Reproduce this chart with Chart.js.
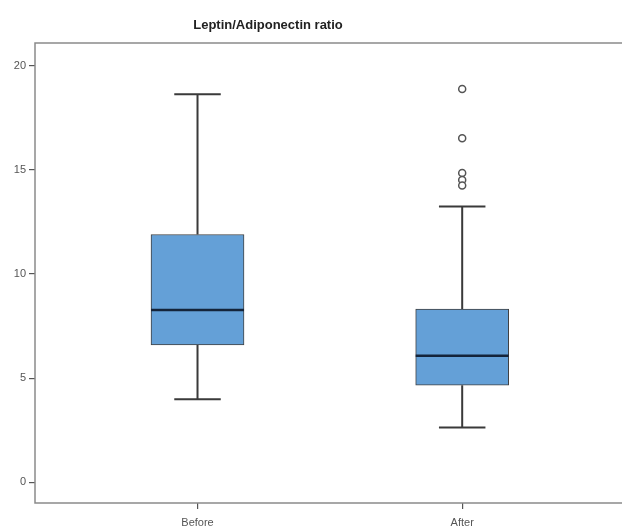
<!DOCTYPE html>
<html>
<head>
<meta charset="utf-8">
<script src="https://cdn.jsdelivr.net/npm/chart.js@4.4.1/dist/chart.umd.min.js"></script>
<style>
  html, body { margin: 0; padding: 0; background: #fff; }
  #wrap { width: 622px; height: 528px; position: relative; }
</style>
</head>
<body>
<div id="wrap"><canvas id="c" width="622" height="528"></canvas></div>
<script>
const chartTitle = 'Leptin/Adiponectin ratio';
const categories = ['Before', 'After'];
const categoryPos = [0, 1];
const whiskerLow = [3.99, 2.63];
const q1 = [6.59, 4.66];
const median = [8.27, 6.07];
const q3 = [11.9, 8.32];
const whiskerHigh = [18.64, 13.24];
const outliersAfter = [18.89, 16.52, 14.85, 14.52, 14.25];
const yTicks = [0, 5, 10, 15, 20];

const boxData = categoryPos.map((x, i) => ({ x: x, y: [q1[i], q3[i]] }));
const outlierData = outliersAfter.map(v => ({ x: categoryPos[1], y: v }));

const boxPlugin = {
  id: 'boxExtras',
  beforeDatasetsDraw(chart) {
    const ctx = chart.ctx, xs = chart.scales.x, ys = chart.scales.y;
    const meta = chart.getDatasetMeta(0);
    ctx.save();
    ctx.strokeStyle = '#3a3a3a';
    ctx.lineWidth = 2;
    categoryPos.forEach((p, i) => {
      const cx = xs.getPixelForValue(p);
      const half = meta.data[i].width / 4;
      const yHi = ys.getPixelForValue(whiskerHigh[i]);
      const yLo = ys.getPixelForValue(whiskerLow[i]);
      const yQ3 = ys.getPixelForValue(q3[i]);
      const yQ1 = ys.getPixelForValue(q1[i]);
      ctx.beginPath();
      ctx.moveTo(cx, yHi); ctx.lineTo(cx, yQ3);
      ctx.moveTo(cx, yQ1); ctx.lineTo(cx, yLo);
      ctx.moveTo(cx - half, yHi); ctx.lineTo(cx + half, yHi);
      ctx.moveTo(cx - half, yLo); ctx.lineTo(cx + half, yLo);
      ctx.stroke();
    });
    ctx.restore();
  },
  afterDatasetsDraw(chart) {
    const ctx = chart.ctx, xs = chart.scales.x, ys = chart.scales.y;
    const meta = chart.getDatasetMeta(0);
    ctx.save();
    ctx.strokeStyle = '#14243a';
    ctx.lineWidth = 2.5;
    categoryPos.forEach((p, i) => {
      const cx = xs.getPixelForValue(p);
      const half = meta.data[i].width / 2;
      const ym = ys.getPixelForValue(median[i]);
      ctx.beginPath();
      ctx.moveTo(cx - half, ym); ctx.lineTo(cx + half, ym);
      ctx.stroke();
    });
    ctx.restore();
  },
  afterDraw(chart) {
    const ctx = chart.ctx, a = chart.chartArea;
    ctx.save();
    ctx.strokeStyle = '#8a8a8a';
    ctx.lineWidth = 1.5;
    ctx.beginPath();
    ctx.moveTo(chart.width + 2, a.top);
    ctx.lineTo(a.left, a.top);
    ctx.lineTo(a.left, a.bottom);
    ctx.lineTo(chart.width + 2, a.bottom);
    ctx.stroke();
    ctx.fillStyle = '#222';
    ctx.font = 'bold 13px "Liberation Sans", Arial, sans-serif';
    ctx.textAlign = 'center';
    ctx.textBaseline = 'middle';
    ctx.fillText(chartTitle, 268, 25);
    ctx.restore();
  }
};

new Chart(document.getElementById('c'), {
  type: 'bar',
  data: {
    datasets: [
      {
        type: 'bar',
        data: boxData,
        backgroundColor: '#64a0d7',
        borderColor: '#404040',
        borderWidth: 1,
        borderSkipped: false,
        barThickness: 93,
        grouped: false
      },
      {
        type: 'scatter',
        data: outlierData,
        pointStyle: 'circle',
        pointRadius: 3.5,
        pointBorderWidth: 1.5,
        pointBorderColor: '#555',
        pointBackgroundColor: '#fff'
      }
    ]
  },
  options: {
    responsive: false,
    animation: false,
    devicePixelRatio: 1,
    layout: { padding: { top: 43, right: 0, left: 0, bottom: 0 } },
    plugins: { legend: { display: false }, tooltip: { enabled: false }, title: { display: false } },
    scales: {
      x: {
        type: 'linear',
        offset: false,
        min: -0.614,
        max: 1.583,
        afterBuildTicks(s) { s.ticks = categoryPos.map(v => ({ value: v })); },
        afterFit(s) { s.height = 25; },
        ticks: {
          callback: (v) => categories[categoryPos.indexOf(v)] || '',
          color: '#555',
          font: { family: '"Liberation Sans", Arial, sans-serif', size: 11 },
          padding: 7,
          maxRotation: 0,
          autoSkip: false
        },
        grid: { offset: false, drawOnChartArea: false, drawTicks: true, tickLength: 6, color: '#555', lineWidth: 1.2 },
        border: { display: false }
      },
      y: {
        type: 'linear',
        min: -1,
        max: 21.1,
        afterBuildTicks(s) { s.ticks = yTicks.map(v => ({ value: v })); },
        afterFit(s) { s.width = 35; },
        ticks: {
          color: '#555',
          font: { family: '"Liberation Sans", Arial, sans-serif', size: 11 },
          padding: 3
        },
        grid: { drawOnChartArea: false, drawTicks: true, tickLength: 6, color: '#555', lineWidth: 1.2 },
        border: { display: false }
      }
    }
  },
  plugins: [boxPlugin]
});
</script>
</body>
</html>
